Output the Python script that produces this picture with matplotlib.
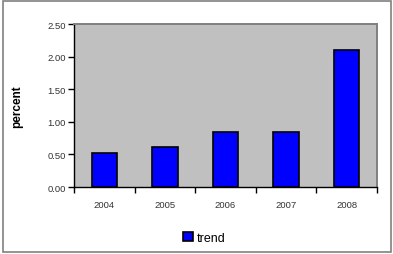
import matplotlib
matplotlib.use("Agg")
import matplotlib.pyplot as plt
from matplotlib.patches import Rectangle
import numpy as np

years = ["2004", "2005", "2006", "2007", "2008"]
trend = [0.52, 0.61, 0.85, 0.84, 2.10]

plt.rcParams['font.family'] = ['Liberation Sans', 'DejaVu Sans']

fig = plt.figure(figsize=(3.93, 2.55), dpi=100)
# outer frame of the chart
fig.patches.append(Rectangle((0.008, 0.008), 0.988, 0.984, transform=fig.transFigure,
                             fill=False, edgecolor="#808080", linewidth=1.2))

ax = fig.add_axes([74/393, 1 - 188/255, (377-74)/393, (188-25)/255])
ax.set_facecolor("#c0c0c0")

x = np.arange(len(years))
ax.bar(x, trend, width=0.42, color="#0000ff", edgecolor="black", linewidth=1.2,
       label="trend", zorder=3)

ax.set_xlim(-0.5, len(years) - 0.5)
ax.set_ylim(0, 2.5)
ax.set_yticks(np.arange(0, 2.51, 0.5))
ax.set_yticklabels([f"{v:.2f}" for v in np.arange(0, 2.51, 0.5)], fontsize=6.8, color="#333333")
ax.set_xticks(x)
ax.set_xticklabels(years, fontsize=6.8, color="#333333")
ax.set_xticks(np.arange(-0.5, len(years)), minor=True)
ax.tick_params(axis="x", which="major", length=0, pad=9)
ax.tick_params(axis="x", which="minor", length=4, width=1, direction="out")
ax.tick_params(axis="y", length=4, width=1, direction="out", pad=2)

for side in ["top", "right"]:
    ax.spines[side].set_color("#808080")
    ax.spines[side].set_linewidth(1.4)
for side in ["left", "bottom"]:
    ax.spines[side].set_color("black")
    ax.spines[side].set_linewidth(1)

ax.set_ylabel("percent", fontsize=8.5, fontweight="bold", labelpad=17)

leg = ax.legend(loc="upper center", bbox_to_anchor=(0.43, -0.205), frameon=False,
                fontsize=9, handlelength=0.8, handleheight=0.8, handletextpad=0.3)

fig.savefig("out.png", dpi=100)
